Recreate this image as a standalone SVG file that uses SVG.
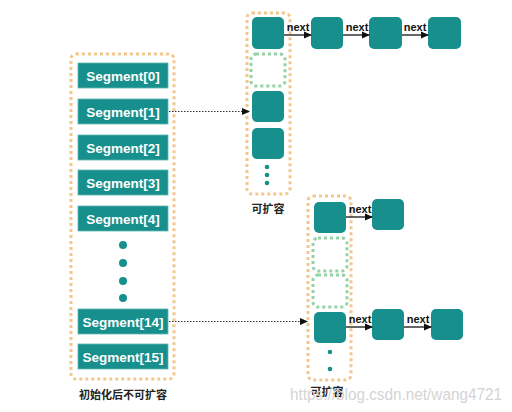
<svg xmlns="http://www.w3.org/2000/svg" width="512" height="412" viewBox="0 0 512 412">
<defs>
<style>
.cont{fill:none;stroke:#f3c88f;stroke-width:3;stroke-dasharray:3 3}
.empty{fill:none;stroke:#93d3a5;stroke-width:3;stroke-dasharray:3 3}
.seg{fill:#178f8c;stroke:#5fb8b5;stroke-width:0.8}
.node{fill:#178f8c}
.segt{font-family:"Liberation Sans",Arial,sans-serif;font-size:13.5px;font-weight:bold;fill:#ffffff;text-anchor:middle}
.lbl{font-family:"Liberation Sans","Noto Sans CJK SC",sans-serif;font-size:11px;font-weight:bold;fill:#222;text-anchor:middle}
.nx{font-family:"Liberation Sans",Arial,sans-serif;font-size:11px;font-weight:bold;fill:#111;text-anchor:middle}
.dot{fill:#178f8c}
.link{stroke:#333;stroke-width:1.5;fill:none}
.ptr{stroke:#333;stroke-width:1;stroke-dasharray:1.5 1.5;fill:none}
.wm{font-family:"Liberation Sans",Arial,sans-serif;font-size:16px;fill:#d4d4d4}
</style>
<marker id="ah" markerWidth="8" markerHeight="8" refX="7" refY="4" orient="auto" markerUnits="userSpaceOnUse">
<path d="M0,0.5 L8,4 L0,7.5 Z" fill="#111"/>
</marker>
</defs>
<rect width="512" height="412" fill="#ffffff"/>

<g id="segments">
<rect class="cont" x="71" y="54" width="103" height="325" rx="5"/>
<g id="seg0"><rect class="seg" x="78" y="63" width="90" height="25"/><text class="segt" x="123" y="80.5">Segment[0]</text></g>
<g id="seg1"><rect class="seg" x="78" y="99" width="90" height="25"/><text class="segt" x="123" y="116.5">Segment[1]</text></g>
<g id="seg2"><rect class="seg" x="78" y="135" width="90" height="25"/><text class="segt" x="123" y="152.5">Segment[2]</text></g>
<g id="seg3"><rect class="seg" x="78" y="170" width="90" height="25"/><text class="segt" x="123" y="187.5">Segment[3]</text></g>
<g id="seg4"><rect class="seg" x="78" y="206" width="90" height="25"/><text class="segt" x="123" y="223.5">Segment[4]</text></g>
<circle class="dot" cx="123" cy="245" r="4"/>
<circle class="dot" cx="123" cy="263" r="4"/>
<circle class="dot" cx="123" cy="281" r="4"/>
<circle class="dot" cx="123" cy="298" r="4"/>
<g id="seg14"><rect class="seg" x="78" y="309" width="90" height="25"/><text class="segt" x="123" y="326.5">Segment[14]</text></g>
<g id="seg15"><rect class="seg" x="78" y="344" width="90" height="25"/><text class="segt" x="123" y="361.5">Segment[15]</text></g>
<text class="lbl" x="123" y="399">初始化后不可扩容</text>
</g>

<g id="table1">
<rect class="cont" x="247" y="13" width="43" height="181" rx="5"/>
<rect class="node" x="252" y="17" width="32" height="32" rx="5"/>
<rect class="empty" x="251" y="54" width="34" height="32" rx="5"/>
<rect class="node" x="252" y="91" width="32" height="31" rx="5"/>
<rect class="node" x="252" y="128" width="32" height="31" rx="5"/>
<circle class="dot" cx="267" cy="167" r="2.3"/>
<circle class="dot" cx="267" cy="175" r="2.3"/>
<circle class="dot" cx="267" cy="183" r="2.3"/>
<text class="lbl" x="268" y="213">可扩容</text>
</g>
<g id="n1a"><rect class="node" x="311" y="17" width="32" height="32" rx="5"/></g>
<g id="n1b"><rect class="node" x="369" y="17" width="33" height="32" rx="5"/></g>
<g id="n1c"><rect class="node" x="428" y="17" width="33" height="32" rx="5"/></g>

<g id="table2">
<rect class="cont" x="308" y="196" width="43" height="184" rx="5"/>
<rect class="node" x="314" y="202" width="32" height="31" rx="5"/>
<rect class="empty" x="313" y="238" width="34" height="33" rx="5"/>
<rect class="empty" x="313" y="275" width="34" height="32" rx="5"/>
<rect class="node" x="314" y="312" width="32" height="31" rx="5"/>
<circle class="dot" cx="330" cy="352" r="2.3"/>
<circle class="dot" cx="330" cy="369" r="2.3"/>
<text class="lbl" x="327" y="396">可扩容</text>
</g>
<g id="n2a"><rect class="node" x="372" y="199" width="32" height="31" rx="5"/></g>
<g id="n3a"><rect class="node" x="372" y="309" width="32" height="31" rx="5"/></g>
<g id="n3b"><rect class="node" x="431" y="309" width="32" height="31" rx="5"/></g>

<g id="connectors">
<line class="ptr" x1="169" y1="111.5" x2="249" y2="111.5" marker-end="url(#ah)"/>
<line class="ptr" x1="169" y1="321.5" x2="307" y2="321.5" marker-end="url(#ah)"/>
<line class="link" x1="284" y1="35" x2="311" y2="35" marker-end="url(#ah)"/>
<line class="link" x1="343" y1="35" x2="369" y2="35" marker-end="url(#ah)"/>
<line class="link" x1="402" y1="35" x2="428" y2="35" marker-end="url(#ah)"/>
<line class="link" x1="346" y1="217" x2="372" y2="217" marker-end="url(#ah)"/>
<line class="link" x1="346" y1="327" x2="372" y2="327" marker-end="url(#ah)"/>
<line class="link" x1="404" y1="327" x2="431" y2="327" marker-end="url(#ah)"/>
<text class="nx" x="298" y="31">next</text>
<text class="nx" x="357" y="31">next</text>
<text class="nx" x="415" y="31">next</text>
<text class="nx" x="360" y="213">next</text>
<text class="nx" x="360" y="323">next</text>
<text class="nx" x="418" y="323">next</text>
</g>

<text class="wm" x="290" y="400" textLength="212" lengthAdjust="spacingAndGlyphs">https://blog.csdn.net/wang4721</text>
</svg>
